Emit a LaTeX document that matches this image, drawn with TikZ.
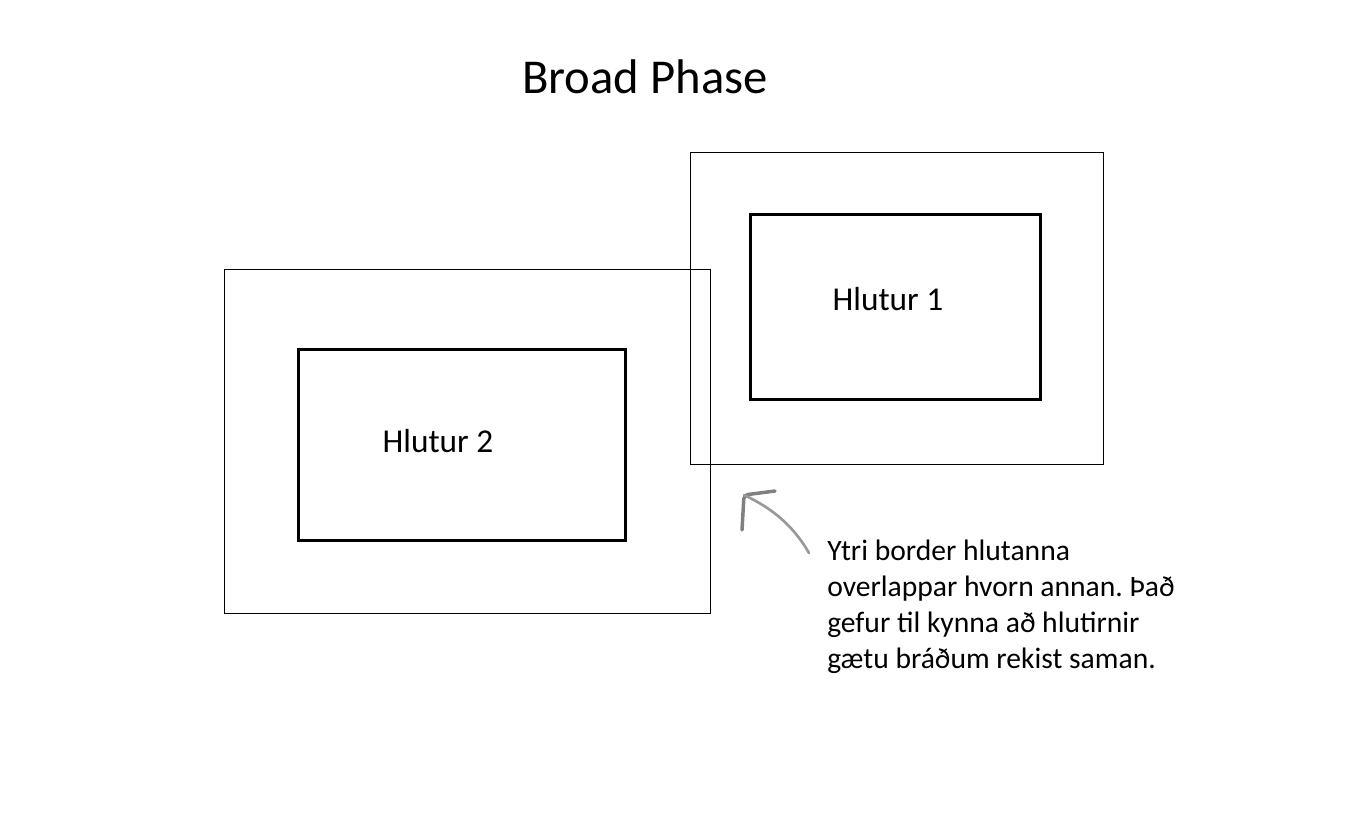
\documentclass[tikz,border=0pt]{standalone}
\usepackage{fontspec}
\setmainfont{Carlito}
\frenchspacing

\tikzset{
  outerbox/.style={draw, line width=0.75pt, inner sep=0pt, outer sep=0pt},
  innerbox/.style={draw, line width=2.25pt, inner sep=0pt, outer sep=0pt},
  objlabel/.style={font=\fontsize{25}{30}\selectfont},
  pen/.style={draw=black!50, line cap=round, line join=round}
}

\begin{document}
\begin{tikzpicture}[x=0.75pt,y=-0.75pt]
        \useasboundingbox (0,0) rectangle (1348,818);

        \node[font=\fontsize{36.5}{44}\selectfont] (title) at (645,77) {Broad Phase};

        % hlutur 1
        \node[outerbox, minimum width=309.75pt, minimum height=234pt] (outer1) at (896.5,308) {};
        \node[innerbox, minimum width=217.5pt, minimum height=138.75pt] (inner1) at (895,306.5) {};
        \node[objlabel] (label1) at (888,299) {Hlutur 1};

        % hlutur 2
        \node[outerbox, minimum width=364.5pt, minimum height=258pt] (outer2) at (467,441) {};
        \node[innerbox, minimum width=245.25pt, minimum height=143.25pt] (inner2) at (461.5,444.5) {};
        \node[objlabel] (label2) at (438,441) {Hlutur 2};

        % hand drawn arrow
        \coordinate (tip) at (744,495);
        \coordinate (headA) at (742,530);
        \coordinate (headB) at (775,491);
        \coordinate (tail) at (809,553);
        \draw[pen, line width=2.6pt, rounded corners=3pt] (headA) -- (tip) -- (headB);
        \draw[pen, draw=black!40, line width=2pt] (tip) .. controls (765,505) and (790,520) .. (tail);

        \node[anchor=north west, align=left, inner sep=0pt,
              font=\fontsize{22.2}{27}\selectfont] (note) at (827,540)
              {Ytri border hlutanna\\overlappar hvorn annan. Það\\gefur til kynna að hlutirnir\\gætu bráðum rekist saman.};
\end{tikzpicture}
\end{document}
